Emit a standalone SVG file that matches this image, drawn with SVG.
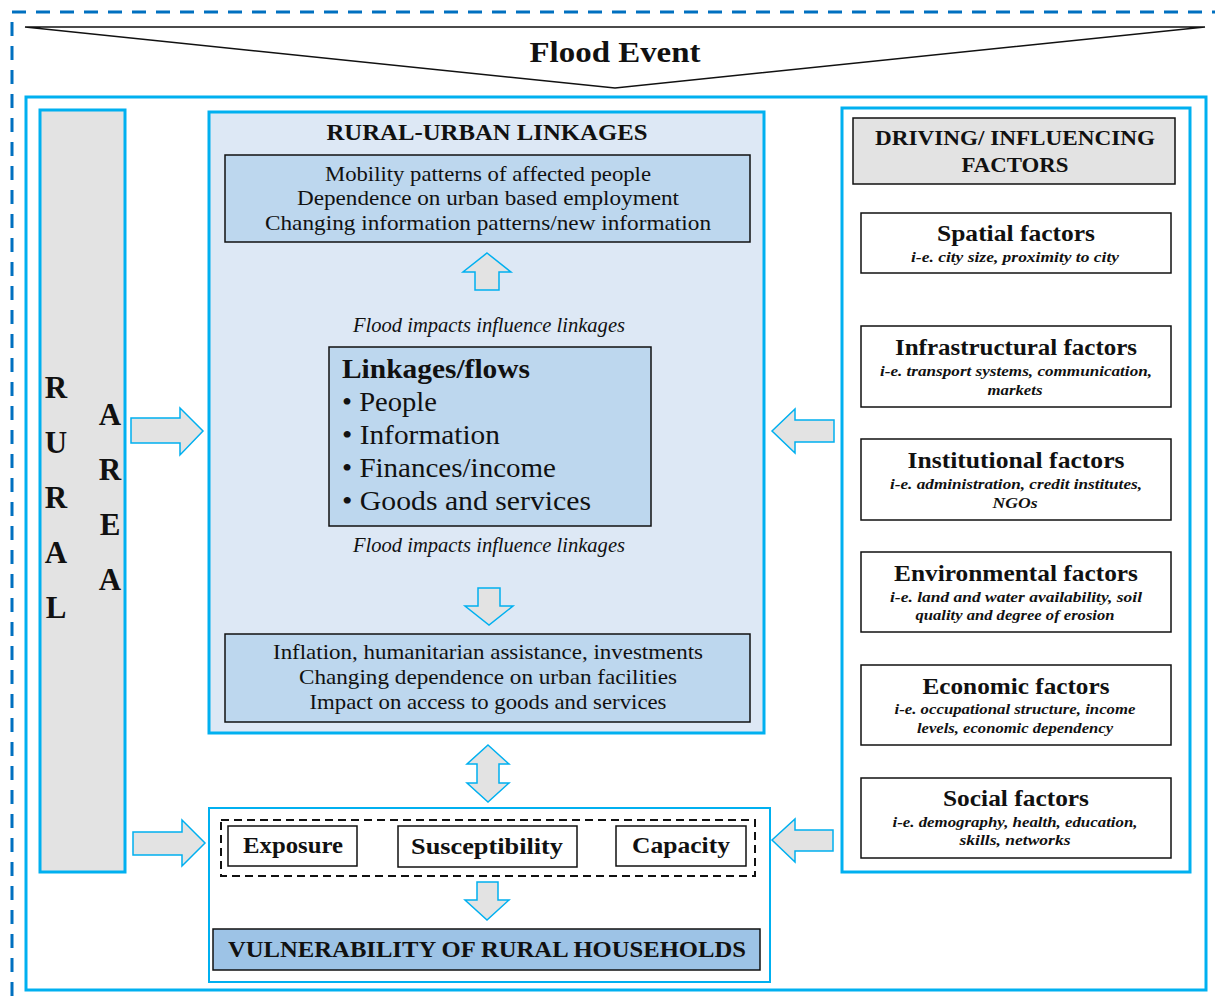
<svg xmlns="http://www.w3.org/2000/svg" width="1215" height="1003" viewBox="0 0 1215 1003">
<style>
  text { font-family: "Liberation Serif", "Times New Roman", serif; fill: #111; }
  .c { text-anchor: middle; }
  .b { font-weight: bold; }
  .i { font-style: italic; }
  .frame { fill: none; stroke: #00B0F0; stroke-width: 3; }
  .panel { fill: #DDE8F5; stroke: #00B0F0; stroke-width: 3; }
  .grey { fill: #E3E3E3; stroke: #00B0F0; stroke-width: 3; }
  .box { fill: #BDD7EE; stroke: #111; stroke-width: 1.5; }
  .wbox { fill: #fff; stroke: #111; stroke-width: 1.5; }
  .arrow { fill: #E3E3E3; stroke: #00B0F0; stroke-width: 1.5; stroke-linejoin: miter; }
  .t20 { font-size: 21px; }
  .title { font-size: 23px; font-weight: bold; }
  .sub { font-size: 15.5px; font-style: italic; font-weight: bold; }
  .flow { font-size: 27px; }
  .letter { font-size: 31px; font-weight: bold; }
</style>

<!-- outer dashed border -->
<rect x="12" y="12" width="1215" height="1005" fill="none" stroke="#0070C0" stroke-width="3" stroke-dasharray="14,10"/>

<!-- flood event banner -->
<g id="flood-event">
  <polygon points="25,27 1205,27 615,88" fill="#fff" stroke="#111" stroke-width="1.5"/>
  <text x="615" y="62" class="c b" font-size="30" textLength="171" lengthAdjust="spacingAndGlyphs">Flood Event</text>
</g>

<!-- main cyan frame -->
<rect x="26" y="97" width="1180" height="893" class="frame"/>

<!-- rural area column -->
<g id="rural-area">
  <rect x="40" y="110" width="85" height="762" class="grey"/>
  <text x="56" y="398" class="c letter">R</text>
  <text x="56" y="453" class="c letter">U</text>
  <text x="56" y="508" class="c letter">R</text>
  <text x="56" y="563" class="c letter">A</text>
  <text x="56" y="618" class="c letter">L</text>
  <text x="110" y="425" class="c letter">A</text>
  <text x="110" y="480" class="c letter">R</text>
  <text x="110" y="535" class="c letter">E</text>
  <text x="110" y="590" class="c letter">A</text>
</g>

<!-- rural-urban linkages panel -->
<g id="rural-urban-linkages">
  <rect x="209" y="112" width="555" height="621" class="panel"/>
  <text x="487" y="140" class="c b" font-size="23" textLength="321" lengthAdjust="spacingAndGlyphs">RURAL-URBAN LINKAGES</text>
</g>

<g id="linkage-effects-top">
  <rect x="225" y="155" width="525" height="87" class="box"/>
  <text x="488" y="181" class="c t20" textLength="326" lengthAdjust="spacingAndGlyphs">Mobility patterns of affected people</text>
  <text x="488" y="205" class="c t20" textLength="382" lengthAdjust="spacingAndGlyphs">Dependence on urban based employment</text>
  <text x="488" y="230" class="c t20" textLength="446" lengthAdjust="spacingAndGlyphs">Changing information patterns/new information</text>
</g>

<text x="489" y="332" class="c i" font-size="20" textLength="272" lengthAdjust="spacingAndGlyphs">Flood impacts influence linkages</text>

<g id="linkages-flows">
  <rect x="329" y="347" width="322" height="179" class="box"/>
  <text x="342" y="378" class="b" font-size="27" textLength="188" lengthAdjust="spacingAndGlyphs">Linkages/flows</text>
  <text x="342" y="411" class="flow" textLength="95" lengthAdjust="spacingAndGlyphs">• People</text>
  <text x="342" y="444" class="flow" textLength="158" lengthAdjust="spacingAndGlyphs">• Information</text>
  <text x="342" y="477" class="flow" textLength="214" lengthAdjust="spacingAndGlyphs">• Finances/income</text>
  <text x="342" y="510" class="flow" textLength="249" lengthAdjust="spacingAndGlyphs">• Goods and services</text>
</g>

<text x="489" y="552" class="c i" font-size="20" textLength="272" lengthAdjust="spacingAndGlyphs">Flood impacts influence linkages</text>

<g id="linkage-effects-bottom">
  <rect x="225" y="634" width="525" height="88" class="box"/>
  <text x="488" y="659" class="c t20" textLength="430" lengthAdjust="spacingAndGlyphs">Inflation, humanitarian assistance, investments</text>
  <text x="488" y="684" class="c t20" textLength="378" lengthAdjust="spacingAndGlyphs">Changing dependence on urban facilities</text>
  <text x="488" y="709" class="c t20" textLength="357" lengthAdjust="spacingAndGlyphs">Impact on access to goods and services</text>
</g>

<!-- vulnerability panel -->
<g id="vulnerability-panel">
  <rect x="209" y="808" width="561" height="174" fill="#fff" stroke="#00B0F0" stroke-width="2"/>
  <rect x="221" y="820" width="534" height="56" fill="none" stroke="#111" stroke-width="2" stroke-dasharray="8,5"/>
</g>
<g id="exposure">
  <rect x="228" y="826" width="129" height="40" class="wbox"/>
  <text x="293" y="853" class="c title" textLength="100" lengthAdjust="spacingAndGlyphs">Exposure</text>
</g>
<g id="susceptibility">
  <rect x="398" y="826" width="179" height="41" class="wbox"/>
  <text x="487" y="854" class="c title" textLength="152" lengthAdjust="spacingAndGlyphs">Susceptibility</text>
</g>
<g id="capacity">
  <rect x="616" y="826" width="130" height="40" class="wbox"/>
  <text x="681" y="853" class="c title" textLength="98" lengthAdjust="spacingAndGlyphs">Capacity</text>
</g>
<g id="vulnerability">
  <rect x="213" y="929" width="547" height="41" fill="#9DC3E6" stroke="#111" stroke-width="1.5"/>
  <text x="487" y="957" class="c b" font-size="24" textLength="518" lengthAdjust="spacingAndGlyphs">VULNERABILITY OF RURAL HOUSEHOLDS</text>
</g>

<!-- driving / influencing factors -->
<g id="driving-factors">
  <rect x="842" y="108" width="348" height="764" fill="#fff" stroke="#00B0F0" stroke-width="3"/>
  <rect x="853" y="118" width="322" height="66" fill="#E3E3E3" stroke="#111" stroke-width="1.5"/>
  <text x="1015" y="145" class="c b" font-size="22" textLength="280" lengthAdjust="spacingAndGlyphs">DRIVING/ INFLUENCING</text>
  <text x="1015" y="172" class="c b" font-size="22" textLength="107" lengthAdjust="spacingAndGlyphs">FACTORS</text>
</g>
<g id="spatial-factors">
  <rect x="861" y="213" width="310" height="60" class="wbox"/>
  <text x="1016" y="241" class="c title" textLength="158" lengthAdjust="spacingAndGlyphs">Spatial factors</text>
  <text x="1015" y="262" class="c sub" textLength="208" lengthAdjust="spacingAndGlyphs">i-e. city size, proximity to city</text>
</g>
<g id="infrastructural-factors">
  <rect x="861" y="326" width="310" height="81" class="wbox"/>
  <text x="1016" y="355" class="c title" textLength="242" lengthAdjust="spacingAndGlyphs">Infrastructural factors</text>
  <text x="1016" y="376" class="c sub" textLength="272" lengthAdjust="spacingAndGlyphs">i-e. transport systems, communication,</text>
  <text x="1015" y="395" class="c sub" textLength="55" lengthAdjust="spacingAndGlyphs">markets</text>
</g>
<g id="institutional-factors">
  <rect x="861" y="439" width="310" height="81" class="wbox"/>
  <text x="1016" y="468" class="c title" textLength="217" lengthAdjust="spacingAndGlyphs">Institutional factors</text>
  <text x="1016" y="489" class="c sub" textLength="252" lengthAdjust="spacingAndGlyphs">i-e. administration, credit institutes,</text>
  <text x="1015" y="508" class="c sub" textLength="45" lengthAdjust="spacingAndGlyphs">NGOs</text>
</g>
<g id="environmental-factors">
  <rect x="861" y="552" width="310" height="80" class="wbox"/>
  <text x="1016" y="581" class="c title" textLength="244" lengthAdjust="spacingAndGlyphs">Environmental factors</text>
  <text x="1016" y="602" class="c sub" textLength="252" lengthAdjust="spacingAndGlyphs">i-e. land and water availability, soil</text>
  <text x="1015" y="620" class="c sub" textLength="199" lengthAdjust="spacingAndGlyphs">quality and degree of erosion</text>
</g>
<g id="economic-factors">
  <rect x="861" y="665" width="310" height="80" class="wbox"/>
  <text x="1016" y="694" class="c title" textLength="187" lengthAdjust="spacingAndGlyphs">Economic factors</text>
  <text x="1015" y="714" class="c sub" textLength="241" lengthAdjust="spacingAndGlyphs">i-e. occupational structure, income</text>
  <text x="1015" y="733" class="c sub" textLength="196" lengthAdjust="spacingAndGlyphs">levels, economic dependency</text>
</g>
<g id="social-factors">
  <rect x="861" y="778" width="310" height="80" class="wbox"/>
  <text x="1016" y="806" class="c title" textLength="146" lengthAdjust="spacingAndGlyphs">Social factors</text>
  <text x="1015" y="827" class="c sub" textLength="245" lengthAdjust="spacingAndGlyphs">i-e. demography, health, education,</text>
  <text x="1015" y="845" class="c sub" textLength="111" lengthAdjust="spacingAndGlyphs">skills, networks</text>
</g>

<!-- block arrows -->
<g id="connectors">
  <polygon class="arrow" points="487,253 511,272 499,272 499,290 475,290 475,272 463,272"/>
  <polygon class="arrow" points="478,588 500,588 500,606 513,606 489,625 465,606 478,606"/>
  <polygon class="arrow" points="488,745 509,764 499,764 499,783 509,783 488,802 467,783 477,783 477,764 467,764"/>
  <polygon class="arrow" points="477,882 498,882 498,900 509,900 487,920 465,900 477,900"/>
  <polygon class="arrow" points="131,418 180,418 180,408 203,431 180,455 180,443 131,443"/>
  <polygon class="arrow" points="133,832 182,832 182,820 205,843 182,866 182,855 133,855"/>
  <polygon class="arrow" points="772,431 795,409 795,420 834,420 834,442 795,442 795,453"/>
  <polygon class="arrow" points="772,840 795,819 795,830 833,830 833,851 795,851 795,862"/>
</g>
</svg>
